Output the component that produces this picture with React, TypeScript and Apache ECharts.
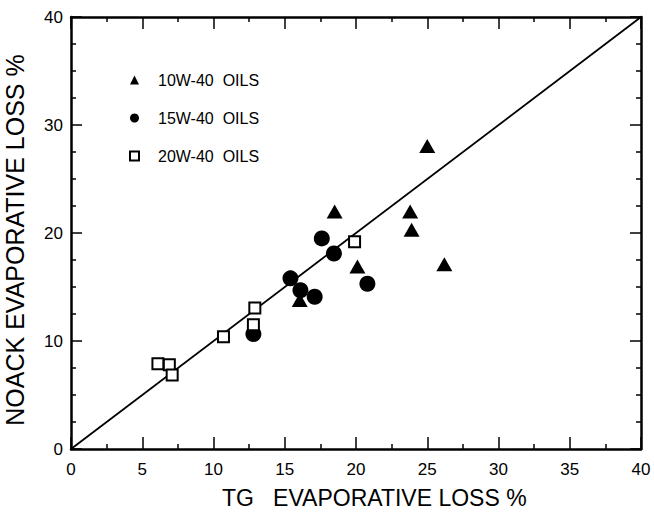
import React, { useEffect, useRef } from "react";
import * as echarts from "echarts";

const seriesNames = ["10W-40  OILS", "15W-40  OILS", "20W-40  OILS"];
const oils10W40: [number, number][] = [
  [18.5, 22.0], [23.8, 22.0], [23.9, 20.3], [26.2, 17.1], [20.1, 16.9], [16.05, 13.8], [25.0, 28.05],
];
const oils15W40: [number, number][] = [
  [17.6, 19.5], [18.45, 18.1], [20.8, 15.3], [15.4, 15.8], [16.1, 14.7], [17.1, 14.1], [12.8, 10.65],
];
const oils20W40: [number, number][] = [
  [19.9, 19.2], [12.9, 13.05], [12.8, 11.5], [10.7, 10.4], [6.1, 7.9], [6.9, 7.8], [7.1, 6.85],
];
const parityLine: [number, number][] = [[0, 0], [40, 40]];
const xTitle = "TG   EVAPORATIVE LOSS %";
const yTitle = "NOACK EVAPORATIVE LOSS %";

const FONT = "Liberation Sans, Arial, sans-serif";

export default function App() {
  const ref = useRef<HTMLDivElement>(null);
  useEffect(() => {
    if (!ref.current) return;
    const chart = echarts.init(ref.current, undefined, { renderer: "svg" });
    const axisCommon = {
      min: 0,
      max: 40,
      axisLine: { show: true, onZero: false, lineStyle: { color: "#000", width: 2.5 } },
      splitLine: { show: false },
    };
    const xBase = {
      ...axisCommon,
      type: "value",
      interval: 5,
      axisTick: { show: true, inside: true, length: 12, lineStyle: { color: "#000", width: 1.5 } },
      minorTick: { show: true, splitNumber: 2, length: 5, lineStyle: { color: "#000", width: 1.5 } },
    };
    const yBase = {
      ...axisCommon,
      type: "value",
      interval: 10,
      axisTick: { show: true, inside: true, length: 11, lineStyle: { color: "#000", width: 1.5 } },
      minorTick: { show: true, splitNumber: 4, length: 5, lineStyle: { color: "#000", width: 1.5 } },
    };
    chart.setOption({
      animation: false,
      backgroundColor: "#fff",
      grid: { left: 71, top: 17, width: 570, height: 432, containLabel: false },
      xAxis: [
        {
          ...xBase,
          position: "bottom",
          axisLabel: { show: true, color: "#000", fontSize: 17, fontFamily: FONT, margin: 12 },
        },
        { ...xBase, position: "top", axisLabel: { show: false } },
      ],
      yAxis: [
        {
          ...yBase,
          position: "left",
          axisLabel: { show: true, color: "#000", fontSize: 17, fontFamily: FONT, margin: 8 },
        },
        { ...yBase, position: "right", axisLabel: { show: false } },
      ],
      legend: {
        orient: "vertical",
        left: 124,
        top: 67,
        itemWidth: 9,
        itemHeight: 9,
        itemGap: 22,
        data: seriesNames,
        textStyle: { color: "#000", fontSize: 16, fontFamily: FONT, lineHeight: 16, padding: [0, 0, 0, 14] },
      },
      series: [
        {
          type: "line",
          data: parityLine,
          symbol: "none",
          lineStyle: { color: "#000", width: 1.8 },
          silent: true,
          z: 1,
        },
        {
          name: seriesNames[0],
          type: "scatter",
          data: oils10W40,
          symbol: "triangle",
          symbolSize: [16, 14],
          itemStyle: { color: "#000", opacity: 1 },
          z: 3,
        },
        {
          name: seriesNames[1],
          type: "scatter",
          data: oils15W40,
          symbol: "circle",
          symbolSize: 16,
          itemStyle: { color: "#000", opacity: 1 },
          z: 3,
        },
        {
          name: seriesNames[2],
          type: "scatter",
          data: oils20W40,
          symbol: "rect",
          symbolSize: 11,
          itemStyle: { color: "#fff", borderColor: "#000", borderWidth: 2, opacity: 1 },
          z: 4,
        },
      ],
      graphic: [
        {
          type: "text",
          left: 222,
          top: 486,
          style: { text: xTitle, fontSize: 23, fontFamily: FONT, fill: "#000" },
        },
        {
          type: "text",
          x: 15,
          y: 240,
          rotation: Math.PI / 2,
          style: {
            text: yTitle,
            fontSize: 25,
            fontFamily: FONT,
            fill: "#000",
            align: "center",
            verticalAlign: "middle",
          },
        },
      ],
    });
    return () => chart.dispose();
  }, []);
  return (
    <div
      ref={ref}
      style={{ position: "fixed", left: 0, top: 0, width: 654, height: 515 }}
    />
  );
}
